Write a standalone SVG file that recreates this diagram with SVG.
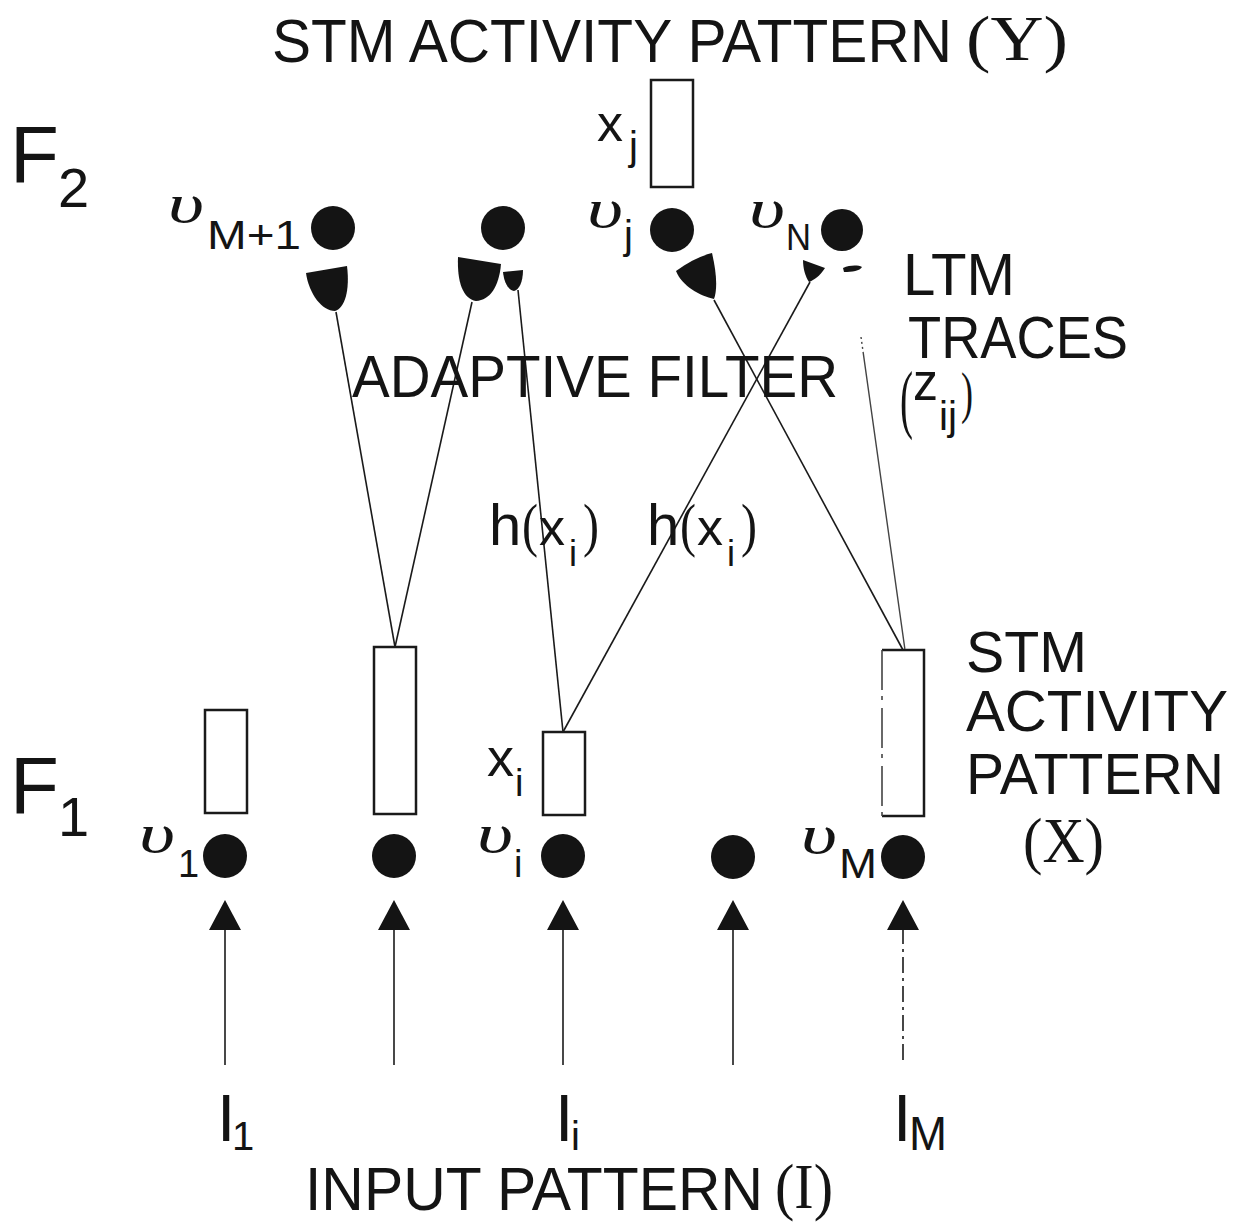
<svg xmlns="http://www.w3.org/2000/svg" width="1238" height="1227" viewBox="0 0 1238 1227">
<defs>
<style>
.t{font-family:"Liberation Sans",Arial,sans-serif;fill:#141414}
.s{font-family:"Liberation Serif","Times New Roman",serif;fill:#141414}
.u{font-family:"Liberation Serif","Times New Roman",serif;font-style:italic;fill:#141414}
.box{fill:#fff;stroke:#1a1a1a;stroke-width:2.5}
.cell{fill:#141414}
.con{stroke:#1a1a1a;stroke-width:1.6;fill:none}
.knob{fill:#141414}
</style>
<marker id="tri" viewBox="0 0 30 32" refX="0" refY="16" markerWidth="30" markerHeight="32" markerUnits="userSpaceOnUse" orient="auto">
<path d="M0,0 L30,16 L0,32 Z" fill="#141414"/>
</marker>
</defs>
<rect width="1238" height="1227" fill="#fff"/>

<g id="title-y">
<text class="t" x="272" y="62" font-size="62" textLength="680" lengthAdjust="spacingAndGlyphs">STM ACTIVITY PATTERN</text>
<text class="s" x="966" y="60" font-size="64" textLength="102" lengthAdjust="spacingAndGlyphs">(Y)</text>
</g>

<g id="F2-label">
<text class="t" x="10" y="182" font-size="80">F</text>
<text class="t" x="58" y="207" font-size="56">2</text>
</g>
<g id="F1-label">
<text class="t" x="10" y="813" font-size="80">F</text>
<text class="t" x="58" y="836" font-size="56">1</text>
</g>

<g id="xj-box">
<rect class="box" x="651" y="80" width="42" height="107"/>
<text class="t" x="597" y="141" font-size="52">x</text>
<text class="t" x="629" y="160" font-size="40">j</text>
</g>

<g id="node-vM1">
<circle class="cell" cx="333" cy="228" r="22"/>
<text class="u" x="168" y="222" font-size="54" textLength="36" lengthAdjust="spacingAndGlyphs">υ</text>
<text class="t" x="207" y="249" font-size="40" textLength="94" lengthAdjust="spacingAndGlyphs">M+1</text>
</g>
<g id="node-F2-b">
<circle class="cell" cx="503" cy="228" r="22"/>
</g>
<g id="node-vj">
<circle class="cell" cx="672" cy="230" r="22"/>
<text class="u" x="587" y="227" font-size="54" textLength="36" lengthAdjust="spacingAndGlyphs">υ</text>
<text class="t" x="624" y="249" font-size="40">j</text>
</g>
<g id="node-vN">
<circle class="cell" cx="842" cy="230" r="21"/>
<text class="u" x="749" y="227" font-size="54" textLength="36" lengthAdjust="spacingAndGlyphs">υ</text>
<text class="t" x="786" y="250" font-size="36" textLength="25" lengthAdjust="spacingAndGlyphs">N</text>
</g>

<g id="ltm-traces">
<path class="knob" d="M306,273 L347,266 C350,290 345,308 335,311 C322,311 309,294 306,273 Z"/>
<path class="knob" d="M458,257 L501,264 C499,287 490,300 476,301 C463,299 457,282 458,257 Z"/>
<path class="knob" d="M503,272 L523,270 C523,282 519,290 514,291 C508,290 504,282 503,272 Z"/>
<path class="knob" d="M676,271 C688,262 700,256 712,253 C716,270 718,288 714,299 C700,296 682,286 676,271 Z"/>
<path class="knob" d="M803,260 L825,268 C820,276 814,280 809,282 C805,276 803,268 803,260 Z"/>
<path class="knob" d="M843,268 C850,265 858,265 862,267 C860,271 852,272 844,272 Z"/>
<text class="t" x="903" y="295" font-size="60" textLength="112" lengthAdjust="spacingAndGlyphs">LTM</text>
<text class="t" x="908" y="358" font-size="60" textLength="220" lengthAdjust="spacingAndGlyphs">TRACES</text>
<text class="s" x="900" y="424" font-size="76" textLength="13" lengthAdjust="spacingAndGlyphs">(</text>
<text class="t" x="913" y="400" font-size="54" textLength="25" lengthAdjust="spacingAndGlyphs">z</text>
<text class="t" x="939" y="430" font-size="40" textLength="18" lengthAdjust="spacingAndGlyphs">ij</text>
<text class="s" x="961" y="412" font-size="58" textLength="12" lengthAdjust="spacingAndGlyphs">)</text>
</g>

<g id="connectors">
<line class="con" x1="336" y1="312" x2="395" y2="647"/>
<line class="con" x1="472" y1="302" x2="395" y2="647"/>
<line class="con" x1="518" y1="290" x2="563" y2="732"/>
<line class="con" x1="810" y1="282" x2="563" y2="732"/>
<line class="con" x1="714" y1="300" x2="903" y2="650"/>
<line x1="861" y1="337" x2="905" y2="650" stroke="#444" stroke-width="1.4" stroke-dasharray="2,3,2,3,2,3,300"/>
<line class="con" x1="225" y1="1065" x2="225" y2="930" marker-end="url(#tri)"/>
<line class="con" x1="394" y1="1065" x2="394" y2="930" marker-end="url(#tri)"/>
<line class="con" x1="563" y1="1065" x2="563" y2="930" marker-end="url(#tri)"/>
<line class="con" x1="733" y1="1065" x2="733" y2="930" marker-end="url(#tri)"/>
<line class="con" x1="903" y1="1060" x2="903" y2="930" marker-end="url(#tri)" stroke-dasharray="16,5,3,5" stroke="#666"/>
</g>

<g id="adaptive-filter-label">
<text class="t" x="352" y="397" font-size="60" textLength="486" lengthAdjust="spacingAndGlyphs">ADAPTIVE FILTER</text>
</g>

<g id="h-labels">
<text class="t" x="489" y="545" font-size="58">h</text>
<text class="s" x="522" y="545" font-size="60" textLength="16" lengthAdjust="spacingAndGlyphs">(</text>
<text class="t" x="539" y="545" font-size="52">x</text>
<text class="t" x="569" y="566" font-size="36">i</text>
<text class="s" x="583" y="545" font-size="60" textLength="16" lengthAdjust="spacingAndGlyphs">)</text>
<text class="t" x="647" y="545" font-size="58">h</text>
<text class="s" x="680" y="545" font-size="60" textLength="16" lengthAdjust="spacingAndGlyphs">(</text>
<text class="t" x="697" y="545" font-size="52">x</text>
<text class="t" x="727" y="566" font-size="36">i</text>
<text class="s" x="741" y="545" font-size="60" textLength="16" lengthAdjust="spacingAndGlyphs">)</text>
</g>

<g id="box-1">
<rect class="box" x="205" y="710" width="42" height="103"/>
</g>
<g id="box-2">
<rect class="box" x="374" y="647" width="42" height="167"/>
</g>
<g id="box-xi">
<rect class="box" x="543" y="732" width="42" height="83"/>
<text class="t" x="487" y="776" font-size="54">x</text>
<text class="t" x="515" y="796" font-size="38">i</text>
</g>
<g id="box-M">
<path d="M882,650 L924,650 L924,816 L882,816" fill="none" stroke="#1a1a1a" stroke-width="2.5"/>
<line x1="882" y1="650" x2="882" y2="816" stroke="#444" stroke-width="1.6" stroke-dasharray="40,6,4,8"/>
</g>

<g id="stm-x-label">
<text class="t" x="966" y="672" font-size="58" textLength="121" lengthAdjust="spacingAndGlyphs">STM</text>
<text class="t" x="966" y="731" font-size="58" textLength="262" lengthAdjust="spacingAndGlyphs">ACTIVITY</text>
<text class="t" x="966" y="794" font-size="58" textLength="258" lengthAdjust="spacingAndGlyphs">PATTERN</text>
<text class="s" x="1023" y="862" font-size="64" textLength="81" lengthAdjust="spacingAndGlyphs">(X)</text>
</g>

<g id="node-v1">
<circle class="cell" cx="225" cy="856" r="22"/>
<text class="u" x="139" y="852" font-size="54" textLength="36" lengthAdjust="spacingAndGlyphs">υ</text>
<text class="t" x="178" y="877" font-size="38">1</text>
</g>
<g id="node-F1-b">
<circle class="cell" cx="394" cy="856" r="22"/>
</g>
<g id="node-vi">
<circle class="cell" cx="563" cy="856" r="22"/>
<text class="u" x="477" y="852" font-size="54" textLength="36" lengthAdjust="spacingAndGlyphs">υ</text>
<text class="t" x="514" y="877" font-size="38">i</text>
</g>
<g id="node-F1-d">
<circle class="cell" cx="733" cy="857" r="22"/>
</g>
<g id="node-vM">
<circle class="cell" cx="903" cy="857" r="22"/>
<text class="u" x="801" y="853" font-size="54" textLength="36" lengthAdjust="spacingAndGlyphs">υ</text>
<text class="t" x="839" y="878" font-size="42" textLength="38" lengthAdjust="spacingAndGlyphs">M</text>
</g>

<g id="input-labels">
<text class="t" x="217" y="1141" font-size="66">I</text>
<text class="t" x="232" y="1150" font-size="40">1</text>
<text class="t" x="555" y="1141" font-size="66">I</text>
<text class="t" x="571" y="1150" font-size="40">i</text>
<text class="t" x="893" y="1141" font-size="66">I</text>
<text class="t" x="909" y="1150" font-size="48" textLength="38" lengthAdjust="spacingAndGlyphs">M</text>
<text class="t" x="305" y="1210" font-size="62" textLength="458" lengthAdjust="spacingAndGlyphs">INPUT PATTERN</text>
<text class="s" x="775" y="1208" font-size="64" textLength="58" lengthAdjust="spacingAndGlyphs">(I)</text>
</g>
</svg>
